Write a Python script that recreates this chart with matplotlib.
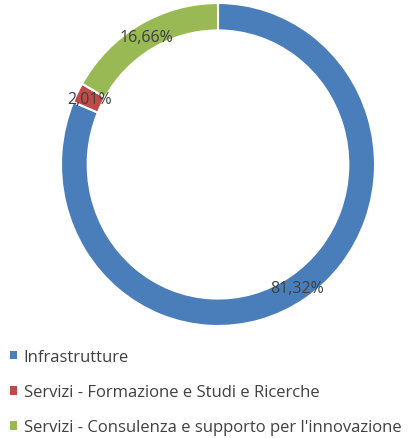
import matplotlib
matplotlib.use("Agg")
import matplotlib.pyplot as plt
from matplotlib.patches import Patch
import numpy as np

categories = ["Infrastrutture",
              "Servizi - Formazione e Studi e Ricerche",
              "Servizi - Consulenza e supporto per l'innovazione"]
values = [81.32, 2.01, 16.66]
labels = ["81,32%", "2,01%", "16,66%"]
colors = ["#4a7ebb", "#be4b48", "#98b954"]

plt.rcParams['font.family'] = ['Open Sans', 'DejaVu Sans']

fig = plt.figure(figsize=(4.11, 4.39), dpi=100)
# donut box in pixels: x 61..375, y 4..327
ax = fig.add_axes([61 / 411, (439 - 327) / 439, 314 / 411, 323 / 439])

wedges, _ = ax.pie(values, colors=colors, startangle=90, counterclock=False,
                   radius=1.0,
                   wedgeprops=dict(width=0.17, edgecolor="white", linewidth=1.5))
ax.set_xlim(-1, 1)
ax.set_ylim(-1, 1)
ax.set_aspect("auto")

# label each slice in the middle of the ring
start = 90.0
for v, lab in zip(values, labels):
    mid = start - v * 360 / 100 / 2
    r = 0.915
    x, y = r * np.cos(np.radians(mid)), r * np.sin(np.radians(mid))
    ax.text(x, y, lab, ha="center", va="center", fontsize=11.5, color="#404040")
    start -= v * 360 / 100

handles = [Patch(facecolor=c, edgecolor="none") for c in colors]
leg = fig.legend(handles, categories, loc="upper left",
                 bbox_to_anchor=(0.0, 99 / 439), frameon=False,
                 fontsize=12, handlelength=0.42, handleheight=0.42,
                 handletextpad=0.4, labelspacing=1.15, borderaxespad=0.2)
for t in leg.get_texts():
    t.set_color("#404040")

fig.savefig("out.png", dpi=100)
